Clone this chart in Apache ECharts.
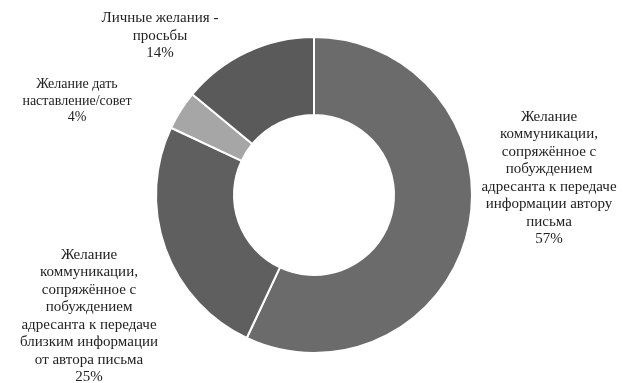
<!DOCTYPE html>
<html>
<head>
<meta charset="utf-8">
<script src="https://cdn.jsdelivr.net/npm/echarts@6/dist/echarts.min.js"></script>
<style>
  html, body { margin: 0; padding: 0; background: #fff; }
  #pie { width: 623px; height: 383px; }
</style>
</head>
<body>
<div id="pie"></div>
<script>
// данные диаграммы
const names = [
  'Желание\nкоммуникации,\nсопряжённое с\nпобуждением\nадресанта к передаче\nинформации автору\nписьма',
  'Желание\nкоммуникации,\nсопряжённое с\nпобуждением\nадресанта к передаче\nблизким информации\nот автора письма',
  'Желание дать\nнаставление/совет',
  'Личные желания -\nпросьбы'
]
const values = [57, 25, 4, 14]
const colors = ['#6b6b6b', '#5f5f5f', '#a6a6a6', '#5a5a5a']
// где стоят подписи (центр текста) и их размер
const labelPos = [[549, 178], [89, 316], [77, 101], [160, 36]]
const labelSize = [15, 15, 14, 15]

const myChart = echarts.init(document.getElementById('pie'))

const option = {
  animation: false,
  series: [
    {
      type: 'pie',
      center: [314, 195],
      radius: [80, 158],
      startAngle: 90,
      clockwise: true,
      data: names.map((n, i) => ({
        name: n,
        value: values[i],
        itemStyle: { color: colors[i] },
        label: { fontSize: labelSize[i], lineHeight: labelSize[i] + 2.5 }
      })),
      itemStyle: {
        borderColor: '#ffffff',
        borderWidth: 2
      },
      label: {
        show: true,
        position: 'outside',
        formatter: '{b}\n{d}%',
        fontFamily: 'Liberation Serif',
        color: '#222',
        align: 'center',
        overflow: 'none'
      },
      labelLine: { show: false },
      labelLayout: params => ({
        x: labelPos[params.dataIndex][0],
        y: labelPos[params.dataIndex][1],
        align: 'center',
        verticalAlign: 'middle'
      })
    }
  ]
}

myChart.setOption(option)
</script>
</body>
</html>
